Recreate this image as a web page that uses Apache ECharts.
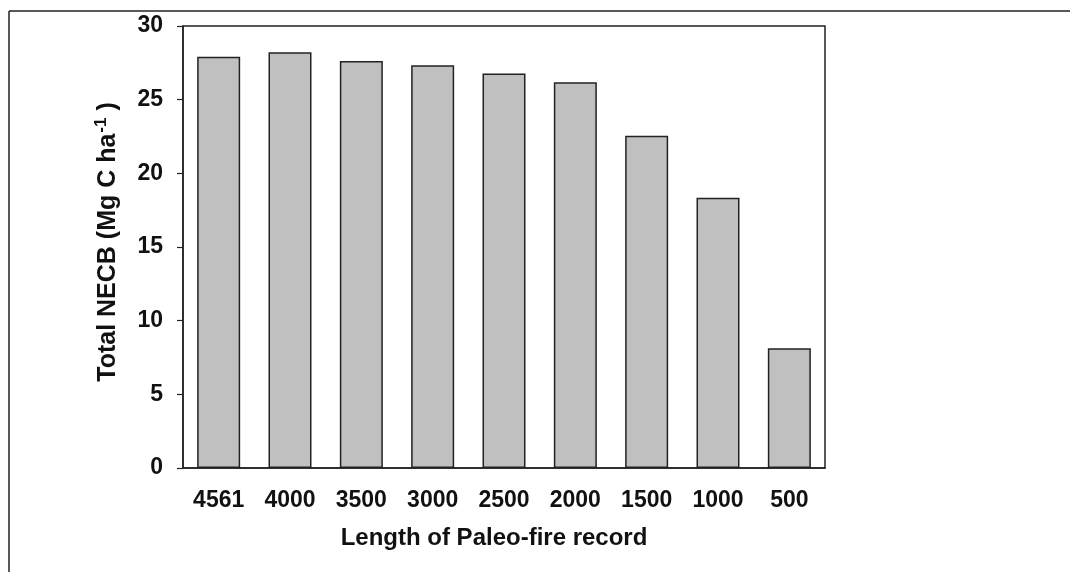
<!DOCTYPE html>
<html>
<head>
<meta charset="utf-8">
<title>Total NECB vs length of paleo-fire record</title>
<script src="https://cdn.jsdelivr.net/npm/echarts@6/dist/echarts.min.js"></script>
<style>
  html, body { margin: 0; padding: 0; background: #fff; }
  #chart { width: 1070px; height: 572px; }
</style>
</head>
<body>
<div id="chart"></div>
<script>
// record lengths (years) and total NECB (Mg C ha-1)
var categories = ['4561', '4000', '3500', '3000', '2500', '2000', '1500', '1000', '500'];
var necbValues = [27.92, 28.21, 27.62, 27.34, 26.77, 26.18, 22.55, 18.35, 8.12];
var yTicks = [0, 5, 10, 15, 20, 25, 30];

var font = "'Liberation Sans', Arial, sans-serif";

var myChart = echarts.init(document.getElementById('chart'));

var option = {
  backgroundColor: '#fff',
  animation: false,
  textStyle: { fontFamily: font },
  grid: {
    left: 183,
    right: 245,
    top: 26,
    bottom: 104,
    show: true,
    borderColor: '#222',
    borderWidth: 1.5,
    containLabel: false
  },
  // outer picture frame (top and left edge only)
  graphic: [
    { type: 'line', shape: { x1: 9, y1: 11, x2: 1070, y2: 11 }, style: { stroke: '#222', lineWidth: 1.5 } },
    { type: 'line', shape: { x1: 9, y1: 11, x2: 9, y2: 572 }, style: { stroke: '#222', lineWidth: 1.5 } }
  ],
  xAxis: {
    type: 'category',
    data: categories,
    name: 'Length of Paleo-fire record',
    nameLocation: 'middle',
    nameGap: 58,
    nameTextStyle: {
      fontFamily: font, fontWeight: 'bold', fontSize: 24, color: '#111',
      padding: [0, 20, 0, 0]
    },
    axisLine: { lineStyle: { color: '#222', width: 1.5 } },
    axisTick: { alignWithLabel: true, length: 6, lineStyle: { color: '#222', width: 1.2 } },
    axisLabel: { margin: 21, fontFamily: font, fontWeight: 'bold', fontSize: 23, color: '#111' },
    splitLine: { show: false }
  },
  yAxis: {
    type: 'value',
    min: yTicks[0],
    max: yTicks[yTicks.length - 1],
    interval: 5,
    name: '{t|Total NECB (Mg C ha}{sup|-1}{t| )}',
    nameLocation: 'middle',
    nameGap: 60,
    nameRotate: 90,
    nameTextStyle: {
      padding: [0, 0, 0, 10],
      rich: {
        t: { fontFamily: font, fontWeight: 'bold', fontSize: 25, color: '#111', lineHeight: 30 },
        sup: { fontFamily: font, fontWeight: 'bold', fontSize: 17, color: '#111', verticalAlign: 'top', lineHeight: 30, padding: [0, 0, 14, 1] }
      }
    },
    axisLine: { show: true, lineStyle: { color: '#222', width: 1.5 } },
    axisTick: { show: true, length: 6, lineStyle: { color: '#222', width: 1.2 } },
    axisLabel: { margin: 20, fontFamily: font, fontWeight: 'bold', fontSize: 23, color: '#111' },
    splitLine: { show: false }
  },
  series: [
    {
      name: 'Total NECB',
      type: 'bar',
      data: necbValues,
      barWidth: 43,
      itemStyle: { color: '#c0c0c0', borderColor: '#222', borderWidth: 1.5 }
    }
  ]
};

myChart.setOption(option);
</script>
</body>
</html>
